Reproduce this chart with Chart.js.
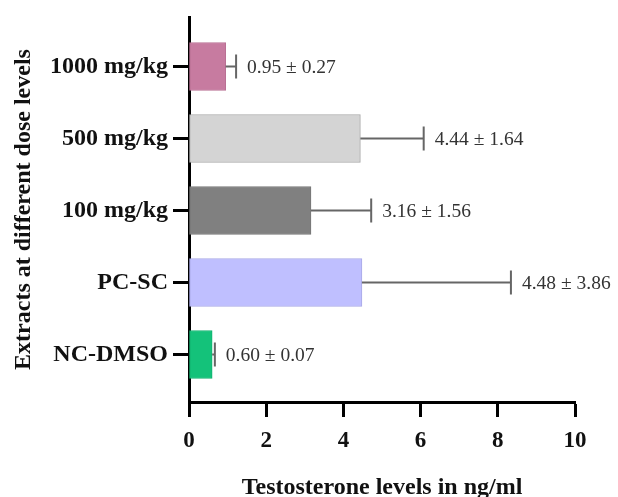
<!DOCTYPE html>
<html>
<head>
<meta charset="utf-8">
<script src="https://cdn.jsdelivr.net/npm/chart.js@4.4.0/dist/chart.umd.min.js"></script>
<style>
html,body{margin:0;padding:0;background:#fff;}
#wrap{position:relative;width:618px;height:497px;}
</style>
</head>
<body>
<div id="wrap"><canvas id="c" width="618" height="497"></canvas></div>
<script>
const categories = ['1000 mg/kg', '500 mg/kg', '100 mg/kg', 'PC-SC', 'NC-DMSO'];
const means = [0.95, 4.44, 3.16, 4.48, 0.60];
const sems = [0.27, 1.64, 1.56, 3.86, 0.07];
const xTicks = [0, 2, 4, 6, 8, 10];
const barColors = ['#C77BA0', '#D4D4D4', '#808080', '#BFBFFF', '#14C27A'];
const borderColors = ['#B97094', '#A9A9A9', '#777777', '#A9A9E6', '#12B270'];

const serif = "'Liberation Serif', 'Times New Roman', serif";

const errorBars = {
  id: 'errorBars',
  afterDatasetsDraw(chart) {
    const ctx = chart.ctx;
    const meta = chart.getDatasetMeta(0);
    const xs = chart.scales.x;
    ctx.save();
    meta.data.forEach((bar, i) => {
      const y = bar.y;
      const x0 = xs.getPixelForValue(means[i]);
      const x1 = xs.getPixelForValue(means[i] + sems[i]);
      ctx.strokeStyle = '#666';
      ctx.lineWidth = 2;
      ctx.beginPath();
      ctx.moveTo(x0, y);
      ctx.lineTo(x1, y);
      ctx.moveTo(x1, y - 12);
      ctx.lineTo(x1, y + 12);
      ctx.stroke();
      ctx.fillStyle = '#333';
      ctx.font = '19.5px ' + serif;
      ctx.textBaseline = 'middle';
      ctx.textAlign = 'left';
      ctx.fillText(means[i].toFixed(2) + ' \u00b1 ' + sems[i].toFixed(2), x1 + 11, y + 1);
    });
    ctx.restore();
  }
};

new Chart(document.getElementById('c'), {
  type: 'bar',
  data: {
    datasets: [{
      data: categories.map((c, i) => ({ x: means[i], y: i })),
      backgroundColor: barColors,
      borderColor: borderColors,
      borderWidth: 1,
      borderSkipped: false,
      barThickness: 48
    }]
  },
  plugins: [errorBars],
  options: {
    indexAxis: 'y',
    responsive: false,
    animation: false,
    layout: { padding: { top: 13, right: 43, left: 0, bottom: 0 } },
    plugins: { legend: { display: false }, tooltip: { enabled: false } },
    scales: {
      x: {
        type: 'linear',
        min: 0, max: 10,
        afterFit(s) { s.height = 95; },
        afterBuildTicks(s) { s.ticks = xTicks.map(v => ({ value: v })); },
        grid: { drawOnChartArea: false, tickLength: 15, tickWidth: 3, tickColor: '#000' },
        border: { color: '#000', width: 3 },
        ticks: { color: '#111', padding: 13, font: { family: serif, size: 23, weight: 'bold', lineHeight: 1 } },
        title: { display: true, text: 'Testosterone levels in ng/ml', color: '#111', padding: { top: 0, bottom: -3 },
                 font: { family: serif, size: 24, weight: 'bold', lineHeight: 1 } }
      },
      y: {
        type: 'linear',
        reverse: true,
        offset: false,
        min: -0.687, max: 4.66,
        afterFit(s) { s.width = 189; },
        afterBuildTicks(s) { s.ticks = categories.map((c, i) => ({ value: i })); },
        grid: { drawOnChartArea: false, offset: false, tickLength: 16, tickWidth: 3, tickColor: '#000' },
        border: { color: '#000', width: 3 },
        ticks: { color: '#111', padding: 5, callback: (v) => categories[v],
                 font: { family: serif, size: 24, weight: 'bold', lineHeight: 1 } },
        title: { display: true, text: 'Extracts at different dose levels', color: '#111', padding: { top: 12, bottom: 0 },
                 font: { family: serif, size: 24, weight: 'bold', lineHeight: 1 } }
      }
    }
  }
});
</script>
</body>
</html>
